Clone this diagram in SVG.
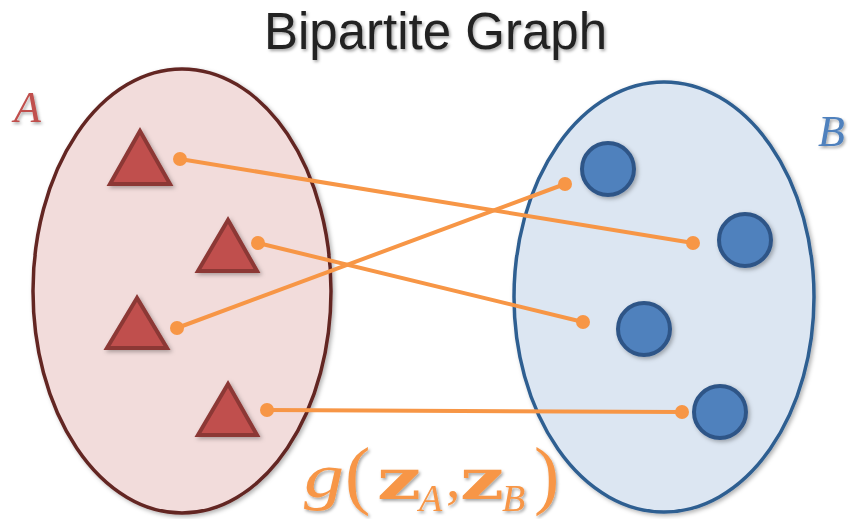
<svg xmlns="http://www.w3.org/2000/svg" width="854" height="519" viewBox="0 0 854 519">
<defs>
<filter id="sh" x="-20%" y="-20%" width="140%" height="140%">
<feDropShadow dx="2" dy="2" stdDeviation="2" flood-color="#000" flood-opacity="0.3"/>
</filter>
<filter id="tsh" x="-10%" y="-10%" width="120%" height="140%">
<feDropShadow dx="1.5" dy="2" stdDeviation="1.5" flood-color="#000" flood-opacity="0.35"/>
</filter>
</defs>
<style>
.tri{fill:#c0504d;stroke:#8c3836;stroke-width:4;stroke-linejoin:miter;filter:url(#sh)}
.cir{fill:#4f81bd;stroke:#2f5587;stroke-width:4;filter:url(#sh)}
.edge{stroke:#f79646;stroke-width:4;fill:none}
.dot{fill:#f79646}
.lab{font-family:"Liberation Serif","DejaVu Serif",serif;font-style:italic;font-size:44px;filter:url(#tsh)}
</style>
<rect width="854" height="519" fill="#ffffff"/>
<text x="435.5" y="49" text-anchor="middle" font-family="Liberation Sans, Arial, sans-serif" font-size="51" fill="#222222" filter="url(#tsh)">Bipartite Graph</text>
<g id="setA">
<ellipse cx="182" cy="291" rx="149" ry="222" fill="#f2dcdb" stroke="#632523" stroke-width="3.5" filter="url(#sh)"/>
<text class="lab" x="14" y="122" fill="#c0504d">A</text>
</g>
<g id="setB">
<ellipse cx="664" cy="297" rx="150" ry="215" fill="#dce6f2" stroke="#2f5e91" stroke-width="3.5" filter="url(#sh)"/>
<text class="lab" x="818" y="146" fill="#4f81bd">B</text>
</g>
<g id="a1"><polygon class="tri" points="140,131 110,184 170,184"/></g>
<g id="a2"><polygon class="tri" points="228,220 198,271 257,271"/></g>
<g id="a3"><polygon class="tri" points="137,298 107,348 167,348"/></g>
<g id="a4"><polygon class="tri" points="228,384 198,435 257,435"/></g>
<g id="b1"><circle class="cir" cx="608" cy="169" r="26"/></g>
<g id="b2"><circle class="cir" cx="745" cy="240" r="26"/></g>
<g id="b3"><circle class="cir" cx="644" cy="329" r="26"/></g>
<g id="b4"><circle class="cir" cx="720" cy="412" r="26"/></g>
<g id="connectors">
<line class="edge" x1="180" y1="159" x2="693" y2="243"/>
<line class="edge" x1="258" y1="243" x2="583" y2="322"/>
<line class="edge" x1="177" y1="328" x2="565" y2="184"/>
<line class="edge" x1="267" y1="410" x2="682" y2="412"/>
<circle class="dot" cx="180" cy="159" r="7"/>
<circle class="dot" cx="693" cy="243" r="7"/>
<circle class="dot" cx="258" cy="243" r="7"/>
<circle class="dot" cx="583" cy="322" r="7"/>
<circle class="dot" cx="177" cy="328" r="7"/>
<circle class="dot" cx="565" cy="184" r="7"/>
<circle class="dot" cx="267" cy="410" r="7"/>
<circle class="dot" cx="682" cy="412" r="7"/>
</g>
<g id="formula" fill="#f79646" font-family="Liberation Serif, DejaVu Serif, serif" filter="url(#tsh)">
<text x="304" y="497" font-size="64" font-style="italic" textLength="40" lengthAdjust="spacingAndGlyphs">g</text>
<text x="345" y="500" font-size="76">(</text>
<text x="377" y="499" font-size="56" font-weight="bold" font-family="DejaVu Serif, serif" textLength="44" lengthAdjust="spacingAndGlyphs">z</text>
<text x="419" y="511" font-size="38" font-style="italic">A</text>
<text x="446" y="497" font-size="58">,</text>
<text x="460" y="499" font-size="56" font-weight="bold" font-family="DejaVu Serif, serif" textLength="44" lengthAdjust="spacingAndGlyphs">z</text>
<text x="502" y="511" font-size="38" font-style="italic">B</text>
<text x="534" y="500" font-size="76">)</text>
</g>
</svg>
